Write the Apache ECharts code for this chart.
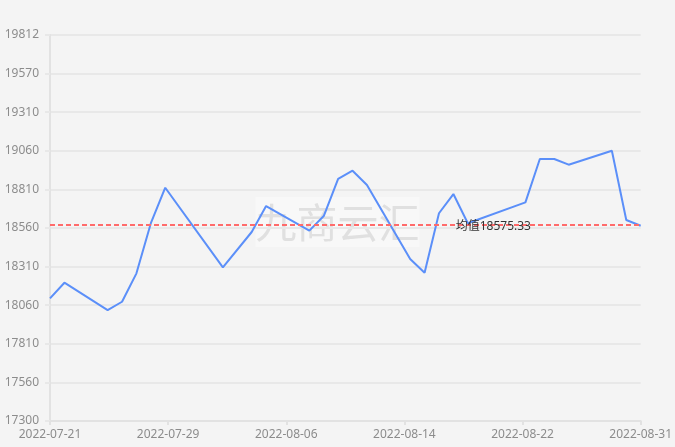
<!DOCTYPE html>
<html>
<head>
<meta charset="utf-8">
<script src="https://cdn.jsdelivr.net/npm/echarts@6/dist/echarts.min.js"></script>
<style>
html,body{margin:0;padding:0;background:#f4f4f4;}
#chart{width:675px;height:447px;}
</style>
</head>
<body>
<div id="chart"></div>
<script>
// ---- data ----
const dates = [
  '2022-07-21','2022-07-22','2022-07-25','2022-07-26','2022-07-27','2022-07-28','2022-07-29',
  '2022-08-02','2022-08-04','2022-08-05','2022-08-08','2022-08-09','2022-08-10','2022-08-11',
  '2022-08-12','2022-08-15','2022-08-16','2022-08-17','2022-08-18','2022-08-19','2022-08-23',
  '2022-08-24','2022-08-25','2022-08-26','2022-08-29','2022-08-30','2022-08-31'
];
const prices = [
  18098, 18200, 18022, 18076, 18261, 18587, 18818,
  18300, 18530, 18699, 18539, 18634, 18875, 18929,
  18836, 18354, 18265, 18652, 18777, 18587, 18723,
  19005, 19005, 18968, 19059, 18608, 18571
];
const averageValue = 18575.33;
const averageLabel = '均值';
const xStart = '2022-07-21';
const xEnd = '2022-08-31';
const yMin = 17300;
const yMax = 19812;
const yTickLabels = ['17300','17560','17810','18060','18310','18560','18810','19060','19310','19570','19812'];
const watermarkText = '九商云汇';

// ---- build ----
function ts(s){ const p = s.split('-').map(Number); return Date.UTC(p[0], p[1]-1, p[2]); }
function fmt(t){
  const d = new Date(t);
  const m = String(d.getUTCMonth()+1).padStart(2,'0');
  const dd = String(d.getUTCDate()).padStart(2,'0');
  return d.getUTCFullYear() + '-' + m + '-' + dd;
}
const xMin = ts(xStart), xMax = ts(xEnd);
const xInterval = (xMax - xMin) / 5;
const yInterval = (yMax - yMin) / 10;
const seriesData = dates.map((d, i) => [ts(d), prices[i]]);

const chart = echarts.init(document.getElementById('chart'), null, {renderer: 'canvas'});
const labelColor = '#8c8c8c';
const lineColor = '#e2e2e2';
chart.setOption({
  backgroundColor: '#f4f4f4',
  animation: false,
  textStyle: {fontFamily: 'Noto Sans, "Noto Sans CJK SC", sans-serif'},
  grid: {left: 50, right: 34, top: 35, bottom: 26, containLabel: false},
  xAxis: {
    type: 'value',
    min: xMin, max: xMax, interval: xInterval,
    axisLine: {show: true, lineStyle: {color: lineColor, width: 2}},
    axisTick: {show: true, length: 4, lineStyle: {color: lineColor, width: 2}},
    splitLine: {show: false},
    axisLabel: {color: labelColor, fontSize: 12, margin: 8, formatter: v => fmt(v)}
  },
  yAxis: {
    type: 'value',
    min: yMin, max: yMax, interval: yInterval,
    axisLine: {show: true, lineStyle: {color: lineColor, width: 2}},
    axisTick: {show: true, length: 5, lineStyle: {color: '#e8e8e8', width: 2}},
    splitLine: {show: true, lineStyle: {color: '#e8e8e8', width: 2}},
    axisLabel: {
      color: labelColor, fontSize: 12, margin: 11,
      formatter: v => yTickLabels[Math.round((v - yMin) / yInterval)] ?? String(v)
    }
  },
  series: [{
    type: 'line',
    data: seriesData,
    showSymbol: false,
    symbol: 'none',
    lineStyle: {color: '#5b8ff9', width: 2},
    itemStyle: {color: '#5b8ff9'},
    markLine: {
      silent: true,
      symbol: 'none',
      lineStyle: {color: '#ff6b6b', type: [5, 3], width: 2},
      label: {
        show: true, position: 'middle', color: '#333', fontSize: 12,
        offset: [148, 13],
        formatter: () => averageLabel + averageValue
      },
      data: [{yAxis: averageValue}]
    }
  }],
  graphic: [{
    type: 'group',
    left: 'center',
    top: 197,
    z: 100,
    children: [
      {type: 'rect', shape: {x: 0, y: 0, width: 164, height: 50}, style: {fill: 'rgba(255,255,255,0.38)'}},
      {type: 'text', x: 82, y: 25, style: {text: watermarkText, fill: 'rgba(190,190,190,0.42)', font: '41px "Noto Sans CJK SC", sans-serif', align: 'center', verticalAlign: 'middle'}}
    ]
  }]
});
</script>
</body>
</html>
